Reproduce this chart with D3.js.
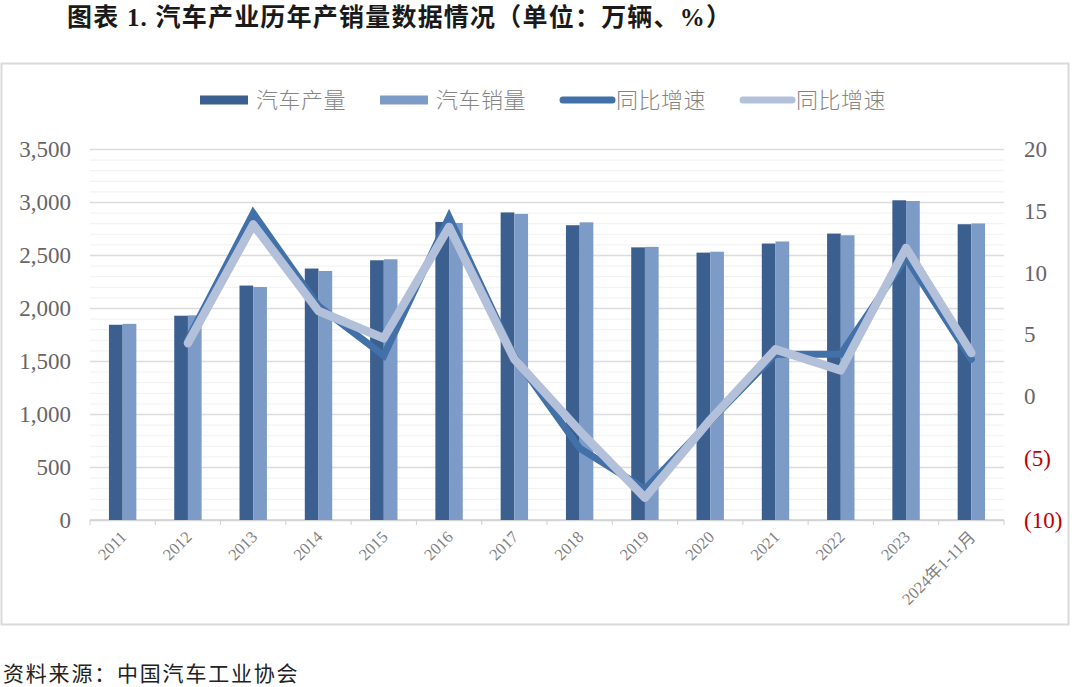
<!DOCTYPE html>
<html>
<head>
<meta charset="utf-8">
<script src="https://cdn.jsdelivr.net/npm/d3@7"></script>
<style>
  body { margin: 0; background: #fff; }
  svg { display: block; }
</style>
</head>
<body>
<svg id="chart"></svg>
<script>
// categories and series (万辆, %)
const years = ["2011", "2012", "2013", "2014", "2015", "2016", "2017", "2018", "2019", "2020", "2021", "2022", "2023", "2024年1-11月"];
const production = [1841.9, 1927.2, 2211.7, 2372.3, 2450.3, 2811.9, 2901.5, 2780.9, 2572.1, 2522.5, 2608.2, 2702.1, 3016.1, 2790.4];
const sales = [1850.5, 1930.6, 2198.4, 2349.2, 2459.8, 2802.8, 2887.9, 2808.1, 2576.9, 2531.1, 2627.5, 2686.4, 3009.4, 2797.7];
const prodGrowth = [null, 4.6, 14.8, 7.3, 3.3, 14.5, 3.2, -4.2, -7.5, -2.0, 3.4, 3.4, 11.2, 3.0];
const salesGrowth = [null, 4.3, 13.9, 6.9, 4.7, 13.7, 3.0, -2.8, -8.2, -1.9, 3.8, 2.1, 12.0, 3.5];
const leftTicks = [0, 500, 1000, 1500, 2000, 2500, 3000, 3500];
const rightTicks = [-10, -5, 0, 5, 10, 15, 20];

const width = 1080, height = 687;
const margin = { top: 149, right: 76, bottom: 167, left: 90 };

const svg = d3.select("#chart")
    .attr("width", width)
    .attr("height", height);

// title
svg.append("text")
    .attr("x", 67)
    .attr("y", 26)
    .attr("textLength", 664)
    .attr("lengthAdjust", "spacing")
    .style("font-family", "'Liberation Serif', 'Noto Sans CJK SC', serif")
    .style("font-weight", "bold")
    .style("font-size", "25px")
    .attr("fill", "#1a1a1a")
    .text("图表 1. 汽车产业历年产销量数据情况（单位：万辆、%）");

// chart frame
svg.append("rect")
    .attr("x", 1.5).attr("y", 63.5)
    .attr("width", 1067).attr("height", 561)
    .attr("fill", "none")
    .attr("stroke", "#d9d9d9")
    .attr("stroke-width", 2);

const innerW = width - margin.left - margin.right;
const innerH = height - margin.top - margin.bottom;
const g = svg.append("g").attr("transform", `translate(${margin.left},${margin.top})`);

const x = d3.scaleBand().domain(years).range([0, innerW]).padding(0);
const half = 13.7;
const xSub = d3.scaleBand().domain(["prod", "sales"])
    .range([x.bandwidth() / 2 - half, x.bandwidth() / 2 + half]);
const y = d3.scaleLinear().domain([0, 3500]).range([innerH, 0]);
const y2 = d3.scaleLinear().domain([-10, 20]).range([innerH, 0]);

// minor and major grid
g.append("g")
    .call(d3.axisLeft(y).ticks(35).tickSize(-innerW).tickFormat(""))
    .call(a => a.select(".domain").remove())
    .call(a => a.selectAll("line").attr("stroke", "#f0f0f0").attr("stroke-width", 1));
g.append("g")
    .call(d3.axisLeft(y).tickValues(leftTicks).tickSize(-innerW).tickFormat(""))
    .call(a => a.select(".domain").remove())
    .call(a => a.selectAll("line").attr("stroke", "#dcdcdc").attr("stroke-width", 1.3));

// left axis labels
g.append("g")
    .call(d3.axisLeft(y).tickValues(leftTicks).tickSize(0).tickPadding(19).tickFormat(d3.format(",")))
    .call(a => a.select(".domain").remove())
    .call(a => a.selectAll("text")
        .style("font-family", "'Liberation Serif', serif")
        .style("font-size", "23px")
        .attr("fill", "#666"));

// right axis labels
g.append("g")
    .attr("transform", `translate(${innerW},0)`)
    .call(d3.axisRight(y2).tickValues(rightTicks).tickSize(0).tickPadding(20)
        .tickFormat(d => d < 0 ? `(${-d})` : d))
    .call(a => a.select(".domain").remove())
    .call(a => a.selectAll("text")
        .style("font-family", "'Liberation Serif', serif")
        .style("font-size", "23px")
        .attr("fill", d => d < 0 ? "#c00000" : "#666"));

// x axis
const xAxisG = g.append("g").attr("transform", `translate(0,${innerH})`);
xAxisG.append("line")
    .attr("x1", 0).attr("x2", innerW)
    .attr("stroke", "#d0d0d0").attr("stroke-width", 1.3);
xAxisG.selectAll(".tk")
    .data(years.concat(["end"]))
    .join("line")
    .attr("class", "tk")
    .attr("x1", (d, i) => i * x.step()).attr("x2", (d, i) => i * x.step())
    .attr("y1", 0).attr("y2", 5)
    .attr("stroke", "#d0d0d0");
xAxisG.selectAll(".xl")
    .data(years)
    .join("text")
    .attr("class", "xl")
    .attr("transform", d => `translate(${x(d) + x.bandwidth() / 2 + 5},${18}) rotate(-45)`)
    .attr("text-anchor", "end")
    .style("font-family", "'Liberation Serif', 'Noto Sans CJK SC', serif")
    .style("font-size", "16.5px")
    .attr("fill", "#7f7f7f")
    .text(d => d);

// bars
const colors = { prod: "#3b5f8e", sales: "#7c9bc7" };
const barData = years.map((yr, i) => ({ yr, prod: production[i], sales: sales[i] }));
g.append("g").selectAll("g")
    .data(barData)
    .join("g")
    .attr("transform", d => `translate(${x(d.yr)},0)`)
    .selectAll("rect")
    .data(d => ["prod", "sales"].map(k => ({ k, v: d[k] })))
    .join("rect")
    .attr("x", d => xSub(d.k))
    .attr("width", xSub.bandwidth())
    .attr("y", d => y(d.v))
    .attr("height", d => innerH - y(d.v))
    .attr("fill", d => colors[d.k]);

// growth lines
const line = d3.line()
    .defined(d => d.v != null)
    .x(d => x(d.yr) + x.bandwidth() / 2)
    .y(d => y2(d.v));
g.append("path")
    .datum(years.map((yr, i) => ({ yr, v: prodGrowth[i] })))
    .attr("d", line)
    .attr("fill", "none")
    .attr("stroke", "#4270a8")
    .attr("stroke-width", 7)
    .attr("stroke-linejoin", "miter")
    .attr("stroke-linecap", "round");
g.append("path")
    .datum(years.map((yr, i) => ({ yr, v: salesGrowth[i] })))
    .attr("d", line)
    .attr("fill", "none")
    .attr("stroke", "#b3c0da")
    .attr("stroke-width", 8.5)
    .attr("stroke-linejoin", "round")
    .attr("stroke-linecap", "round");

// legend
const legendItems = [
    { name: "汽车产量", type: "rect", color: colors.prod },
    { name: "汽车销量", type: "rect", color: colors.sales },
    { name: "同比增速", type: "line", color: "#4270a8" },
    { name: "同比增速", type: "line", color: "#b3c0da" }
];
const legend = svg.append("g").attr("transform", "translate(200,100)");
let lx = 0;
legendItems.forEach(item => {
    const it = legend.append("g").attr("transform", `translate(${lx},0)`);
    if (item.type === "rect") {
        it.append("rect").attr("x", 0).attr("y", -4.5).attr("width", 48).attr("height", 9).attr("fill", item.color);
    } else {
        it.append("line").attr("x1", 3).attr("x2", 52).attr("y1", 0).attr("y2", 0)
            .attr("stroke", item.color).attr("stroke-width", 7).attr("stroke-linecap", "round");
    }
    const t = it.append("text")
        .attr("x", 56)
        .attr("y", 0)
        .attr("dy", "0.35em")
        .style("font-family", "'Noto Sans CJK SC', sans-serif")
        .style("font-size", "22px")
        .style("font-weight", 300)
        .style("letter-spacing", "0.5px")
        .attr("fill", "#858585")
        .text(item.name);
    lx += 56 + t.node().getComputedTextLength() + 34;
});

// source note
svg.append("text")
    .attr("x", 3)
    .attr("y", 674)
    .attr("dy", "0.35em")
    .style("font-family", "'Noto Sans CJK SC', sans-serif")
    .style("font-size", "21px")
    .style("letter-spacing", "1.8px")
    .attr("fill", "#222")
    .text("资料来源：中国汽车工业协会");
</script>
</body>
</html>
